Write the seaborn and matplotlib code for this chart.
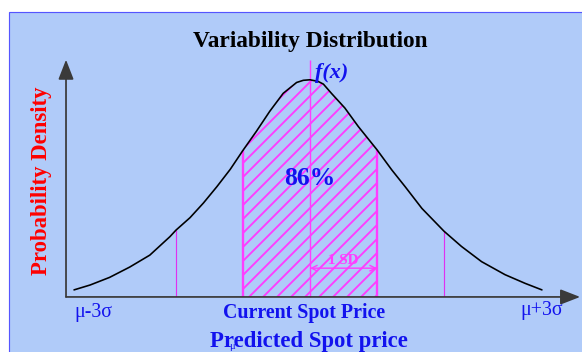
import numpy as np
import pandas as pd
import matplotlib
matplotlib.use('Agg')
import matplotlib.pyplot as plt
from matplotlib.patches import Rectangle
import seaborn as sns

# curve: x in SD units from the mean, y as density
x_sd = [-3.52, -3.28, -2.99, -2.69, -2.39, -2.09, -2.00, -1.79, -1.59, -1.39,
        -1.19, -1.00, -0.80, -0.60, -0.40, -0.20, -0.10, 0.00, 0.12, 0.20,
        0.32, 0.52, 0.72, 1.00, 1.22, 1.42, 1.67, 2.00, 2.26, 2.56,
        2.91, 3.21, 3.46]
densidade = [0.013, 0.022, 0.036, 0.055, 0.077, 0.111, 0.123, 0.146, 0.173, 0.203,
             0.235, 0.270, 0.305, 0.342, 0.375, 0.395, 0.399, 0.400, 0.397, 0.392,
             0.375, 0.348, 0.314, 0.271, 0.234, 0.203, 0.163, 0.121, 0.093, 0.065,
             0.041, 0.025, 0.013]
faixa_sd = [-1.0, 1.0]        # shaded region (86%)
linhas_sd = [-2.0, 2.0]       # thin marker lines
pct_label = '86%'

df = pd.DataFrame({'x': x_sd, 'y': densidade})
altura = dict(zip(x_sd, densidade))

sns.set_theme(style='white')
plt.rcParams['font.family'] = ['Liberation Serif', 'DejaVu Serif']
plt.rcParams['hatch.linewidth'] = 1.6

W, H, DPI = 582, 352, 84
fig = plt.figure(figsize=(6.93, 4.195), dpi=DPI)
fig.patch.set_facecolor('white')

# light blue panel
fig.patches.append(Rectangle((9 / W, -0.01), 1.0, 1 - 12 / H + 0.01, transform=fig.transFigure,
                             facecolor='#b0cbf9', edgecolor='#5555ff', lw=1.0, zorder=-5))

ax = fig.add_axes([66 / W, 55 / H, 514 / W, 237 / H])
ax.set_zorder(2)
ax.set_facecolor('none')
ax.set_xlim(-3.64, 4.03)
ax.set_ylim(0, 0.437)
for s in ax.spines.values():
    s.set_visible(False)
ax.set_xticks([])
ax.set_yticks([])

rosa = '#ff3cff'
azul = '#1212ee'

# hatched area
dentro = df[(df['x'] >= faixa_sd[0]) & (df['x'] <= faixa_sd[1])]
ax.fill_between(dentro['x'], 0, dentro['y'], facecolor='none', edgecolor=rosa,
                hatch='//', lw=0, zorder=1)
ax.vlines(faixa_sd, 0, [altura[v] for v in faixa_sd], color=rosa, lw=2, zorder=2)
ax.vlines(linhas_sd, 0, [altura[v] for v in linhas_sd], color='#e030f0', lw=1, zorder=2)
ax.vlines([0], 0, 0.437, color=rosa, lw=1.2, zorder=2, clip_on=False)

sns.lineplot(data=df, x='x', y='y', color='black', lw=1.4, ax=ax, zorder=3)
ax.set_xlabel('')
ax.set_ylabel('')

# axes arrows
ax.annotate('', xy=(1, 0), xytext=(0, 0), xycoords='axes fraction',
            arrowprops=dict(arrowstyle='-|>,head_length=0.9,head_width=0.35', color='#3a3a3a',
                            lw=1.5, shrinkA=0, shrinkB=0, mutation_scale=16), annotation_clip=False)
ax.annotate('', xy=(0, 1), xytext=(0, 0), xycoords='axes fraction',
            arrowprops=dict(arrowstyle='-|>,head_length=0.9,head_width=0.35', color='#3a3a3a',
                            lw=1.5, shrinkA=0, shrinkB=0, mutation_scale=16), annotation_clip=False)

# 1 SD arrow
ax.annotate('', xy=(faixa_sd[1], 0.053), xytext=(0, 0.053),
            arrowprops=dict(arrowstyle='<->', color=rosa, lw=1.2, shrinkA=0, shrinkB=0))
ax.text(0.5, 0.056, '1 SD', color=rosa, fontsize=13, fontweight='bold', ha='center', va='bottom')

ax.text(0.07, 0.413, 'f(x)', color=azul, fontsize=19, fontweight='bold', style='italic',
        ha='left', va='center', clip_on=False)
ax.text(0, 0.219, pct_label, color=azul, fontsize=22, fontweight='bold', ha='center', va='center')
ax.text(-0.09, -0.028, 'Current Spot Price', color=azul, fontsize=17, fontweight='bold',
        ha='center', va='center', clip_on=False)
ax.text(x_sd[0], -0.028, 'μ-3σ', color=azul, fontsize=17, ha='left', va='center', clip_on=False)
ax.text(x_sd[-1], -0.024, 'μ+3σ', color=azul, fontsize=17, ha='center', va='center', clip_on=False)

fig.text(310 / W, 1 - 41 / H, 'Variability Distribution', color='black', fontsize=20,
         fontweight='bold', ha='center', va='center')
fig.text(309 / W, 1 - 341 / H, 'Predicted Spot price', color=azul, fontsize=19.5,
         fontweight='bold', ha='center', va='center')
fig.text(232 / W, 1 - 346 / H, 'μ', color=azul, fontsize=9, ha='center', va='center')
fig.text(41 / W, 1 - 181 / H, 'Probability Density', color='#ff0000', fontsize=19.5,
         fontweight='bold', rotation=90, ha='center', va='center')

plt.savefig('out.png', dpi=DPI)
